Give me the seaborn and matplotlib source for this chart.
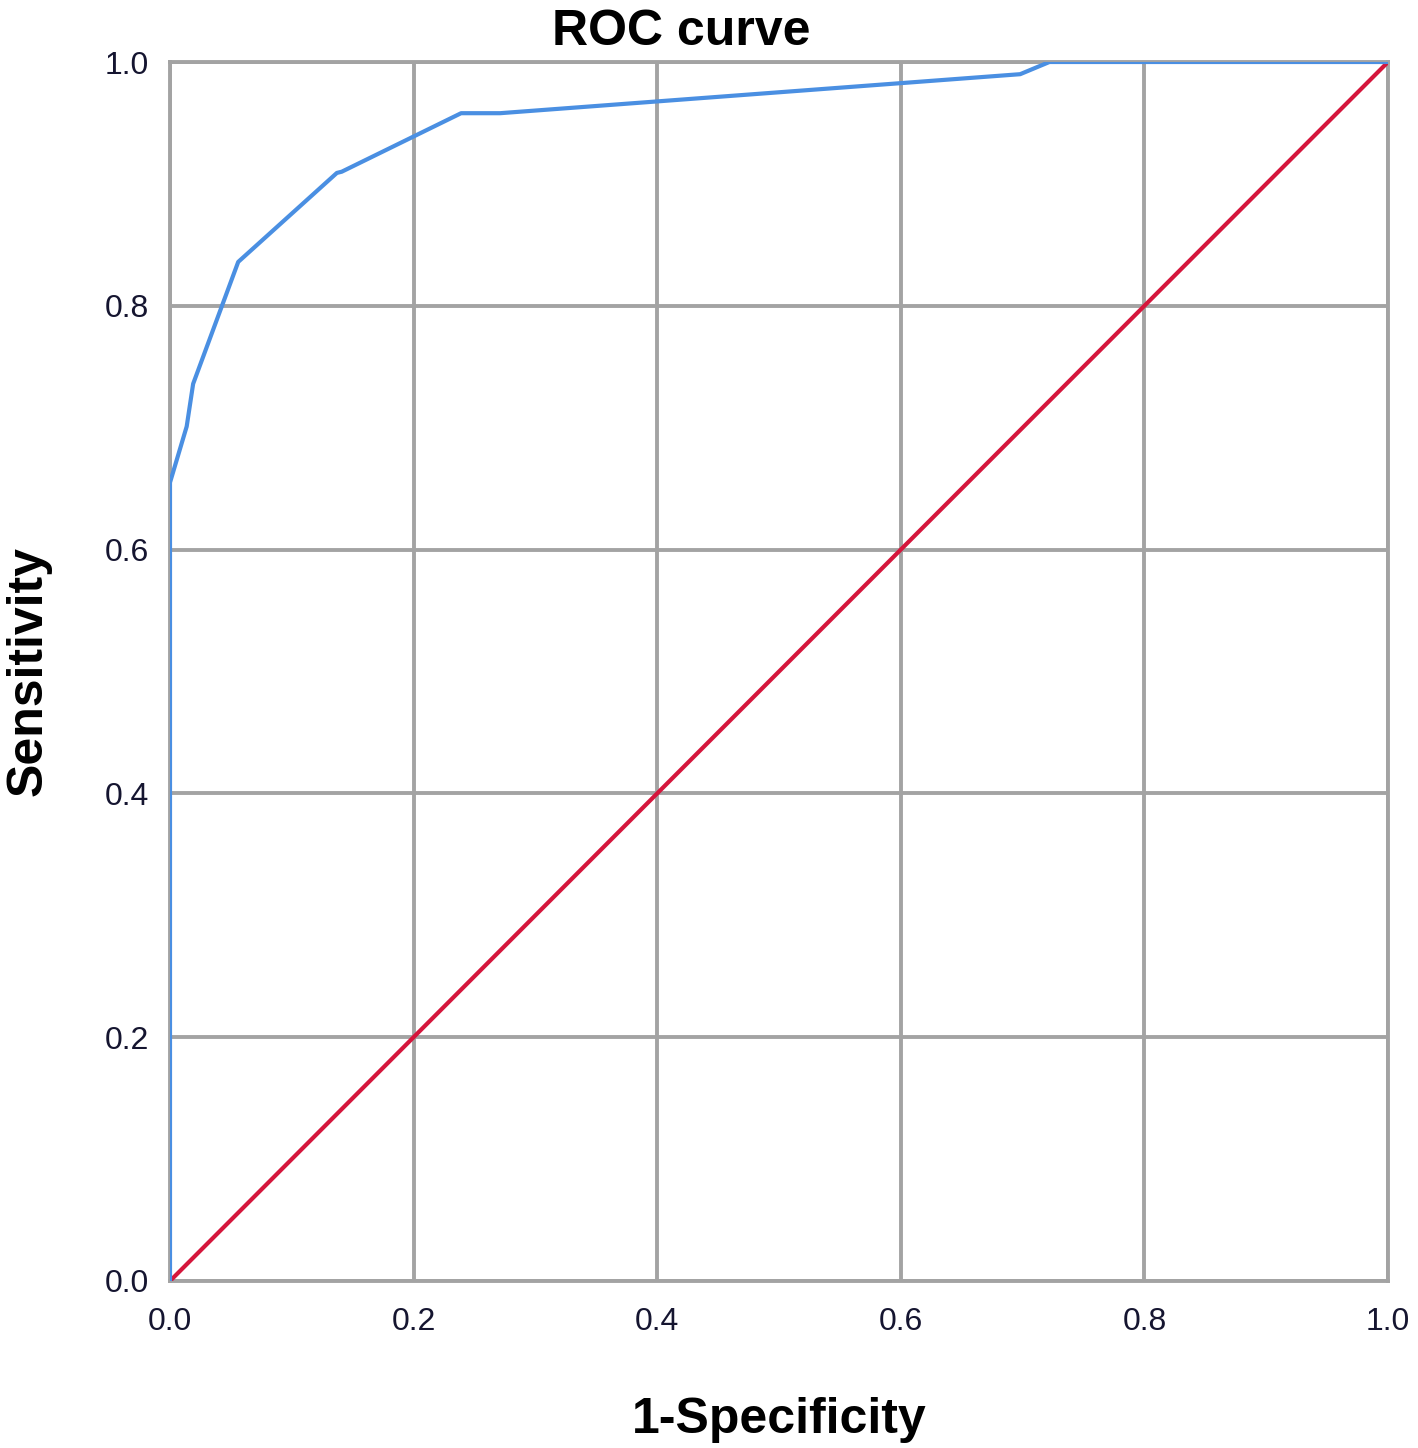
import pandas as pd
import matplotlib
matplotlib.use("Agg")
import matplotlib.pyplot as plt
import seaborn as sns

# ROC curve points (1-specificity, sensitivity)
fpr = [0.0, 0.0, 0.0137, 0.019, 0.056, 0.137, 0.141, 0.239, 0.271, 0.698, 0.722, 1.0]
tpr = [0.0, 0.655, 0.701, 0.736, 0.836, 0.909, 0.910, 0.958, 0.958, 0.990, 1.0, 1.0]

# reference line
ref_x = [0.0, 1.0]
ref_y = [0.0, 1.0]

ticks = [0.0, 0.2, 0.4, 0.6, 0.8, 1.0]
tick_labels = ["0.0", "0.2", "0.4", "0.6", "0.8", "1.0"]

sns.set_style("whitegrid")
plt.rcParams['font.family'] = ['Liberation Sans', 'DejaVu Sans']

df_roc = pd.DataFrame({"fpr": fpr, "tpr": tpr})
df_ref = pd.DataFrame({"x": ref_x, "y": ref_y})

fig = plt.figure(figsize=(14.18, 14.48), dpi=100)
ax = fig.add_axes([170 / 1418, 167 / 1448, 1218 / 1418, 1219 / 1448])

grid_col = "#a3a3a3"
sns.lineplot(data=df_ref, x="x", y="y", ax=ax, color="#d5163c", linewidth=3.0,
             sort=False, zorder=3)
sns.lineplot(data=df_roc, x="fpr", y="tpr", ax=ax, color="#4a8fe2", linewidth=3.0,
             sort=False, estimator=None, zorder=4)

ax.set_xlim(0, 1)
ax.set_ylim(0, 1)
ax.set_xticks(ticks)
ax.set_yticks(ticks)
ax.set_xticklabels(tick_labels)
ax.set_yticklabels(tick_labels)
ax.grid(True, color=grid_col, linewidth=2.8)
for s in ax.spines.values():
    s.set_visible(True)
    s.set_color(grid_col)
    s.set_linewidth(2.8)
ax.tick_params(axis="both", length=0, labelsize=23, labelcolor="#151530")
ax.tick_params(axis="x", pad=19)
ax.tick_params(axis="y", pad=15)

# le titre est un peu decale vers la gauche dans l'original
ax.set_title("ROC curve", fontsize=36, fontweight="bold", color="black", x=0.42, pad=12)
ax.set_xlabel("1-Specificity", fontsize=36, fontweight="bold", color="black", labelpad=43)
ax.set_ylabel("Sensitivity", fontsize=36, fontweight="bold", color="black", labelpad=38)

fig.savefig("out.png", dpi=100, facecolor="white")
